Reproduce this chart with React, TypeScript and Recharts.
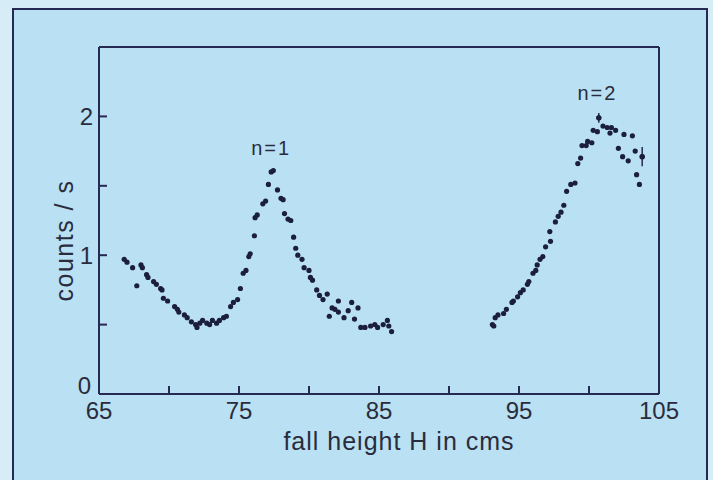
import { ScatterChart, Scatter, XAxis, YAxis, ReferenceDot, ErrorBar } from "recharts";

// n = 1 branch (fall height in cm, counts per second)
const heightsA = [
  66.8, 67.0, 67.4, 67.7, 68.0, 68.1, 68.4, 68.5, 68.9, 69.1, 69.4, 69.5, 69.6, 69.9,
  70.4, 70.6, 70.7, 71.1, 71.3, 71.6, 71.9, 72.0, 72.2, 72.4, 72.7, 72.9, 73.1, 73.4,
  73.6, 73.9, 74.1, 74.4, 74.6, 74.9, 75.1, 75.3, 75.5, 75.7, 75.8, 76.1, 76.15, 76.3,
  76.7, 76.9, 77.1, 77.3, 77.45, 77.75, 78.0, 78.15, 78.25, 78.5, 78.7, 78.9, 79.05,
  79.2, 79.5, 79.65, 80.0, 80.1, 80.25, 80.55, 80.75, 81.0, 81.3, 81.45, 81.65, 81.85,
  82.1, 82.1, 82.5, 82.8, 83.05, 83.25, 83.5, 83.7, 84.0, 84.4, 84.7, 84.9, 85.3, 85.6,
  85.7, 85.9,
];
const countsA = [
  0.97, 0.95, 0.91, 0.78, 0.93, 0.91, 0.86, 0.84, 0.81, 0.79, 0.76, 0.75, 0.69, 0.67,
  0.63, 0.61, 0.59, 0.57, 0.55, 0.52, 0.5, 0.48, 0.51, 0.53, 0.51, 0.5, 0.53, 0.51,
  0.53, 0.55, 0.56, 0.63, 0.66, 0.68, 0.76, 0.87, 0.89, 0.99, 1.01, 1.14, 1.27, 1.29,
  1.37, 1.39, 1.51, 1.6, 1.61, 1.47, 1.41, 1.4, 1.3, 1.26, 1.25, 1.13, 1.05,
  1.0, 0.97, 0.91, 0.89, 0.84, 0.82, 0.75, 0.71, 0.68, 0.72, 0.56, 0.62, 0.61,
  0.67, 0.59, 0.55, 0.6, 0.66, 0.54, 0.62, 0.48, 0.48, 0.49, 0.5, 0.48, 0.5, 0.53,
  0.49, 0.45,
];

// n = 2 branch
const heightsB = [
  93.1, 93.2, 93.3, 93.5, 93.9, 94.1, 94.5, 94.6, 94.9, 95.1, 95.3, 95.6, 95.7, 96.0,
  96.2, 96.3, 96.5, 96.7, 96.9, 97.2, 97.25, 97.6, 97.8, 98.0, 98.2, 98.4, 98.7, 99.0,
  99.2, 99.4, 99.5, 99.8, 99.9, 100.2, 100.3, 100.6, 100.7, 101.0, 101.3, 101.5, 101.6,
  101.9, 102.1, 102.4, 102.5, 102.8, 103.1, 103.3, 103.4, 103.6, 103.8,
];
const countsB = [
  0.5, 0.49, 0.55, 0.57, 0.58, 0.61, 0.66, 0.67, 0.7, 0.73, 0.75, 0.79, 0.81, 0.87,
  0.89, 0.93, 0.97, 0.99, 1.06, 1.17, 1.1, 1.24, 1.28, 1.31, 1.36, 1.46, 1.51, 1.52,
  1.66, 1.7, 1.79, 1.79, 1.82, 1.81, 1.9, 1.89, 1.99, 1.93, 1.92, 1.88, 1.92,
  1.9, 1.77, 1.71, 1.87, 1.68, 1.86, 1.75, 1.58, 1.51, 1.71,
];

// points drawn with an error bar
const errHeights = [100.7, 103.8];
const errCounts = [1.99, 1.71];
const errSizes = [0.035, 0.07];

const xTicks = [65, 70, 75, 80, 85, 90, 95, 100, 105];
const yTicks = [0, 0.5, 1, 1.5, 2];

const peakNames = ["n=1", "n=2"];
const peakHeights = [77.3, 100.6];
const peakCounts = [1.77, 2.17];

const seriesA = heightsA.map((x, i) => ({ x, y: countsA[i] }));
const seriesB = heightsB.map((x, i) => ({ x, y: countsB[i] }));
const seriesErr = errHeights.map((x, i) => ({ x, y: errCounts[i], err: errSizes[i] }));

const navy = "#262a52";
const ink = "#2a2c3c";
const font = '"Liberation Sans", Arial, Helvetica, sans-serif';

const Dot = (p: any) => <circle cx={p.cx} cy={p.cy} r={2.6} fill="#1b1e3c" />;

// y labels only on whole numbers; the 0 sits a little above its tick, as in the print
const YTick = (p: any) => {
  const v = p.payload.value;
  if (!Number.isInteger(v)) return null;
  return (
    <text x={p.x} y={p.y} dy={v === 0 ? 0 : 8.5} dx={v === 0 ? -2 : 0} textAnchor="end" fill={ink} fontSize={24} fontFamily={font}>
      {v}
    </text>
  );
};

const XTitle = ({ viewBox }: any) => (
  <text
    x={viewBox.x + viewBox.width / 2 + 20}
    y={viewBox.y + 56}
    textAnchor="middle"
    fill={ink}
    fontSize={25}
    fontFamily={font}
    letterSpacing={1}
  >
    fall height H in cms
  </text>
);

const YTitle = ({ viewBox }: any) => (
  <text
    transform={`translate(${viewBox.x + 34},${viewBox.y + viewBox.height / 2 + 20}) rotate(-90)`}
    textAnchor="middle"
    fill={ink}
    fontSize={25}
    fontFamily={font}
    letterSpacing={1.5}
  >
    counts / s
  </text>
);

const axisLine = { stroke: navy, strokeWidth: 2 };
const tickStyle = { fill: ink, fontSize: 24, fontFamily: font };

export default function App() {
  return (
    <div style={{ position: "absolute", left: 0, top: 0, width: 713, height: 480, background: "#d6edf8" }}>
      <div
        style={{
          position: "absolute",
          left: 12,
          top: 8,
          width: 692,
          height: 470,
          background: "#b9e0f3",
          borderLeft: `2px solid ${navy}`,
          borderTop: `2px solid ${navy}`,
          borderRight: `2px solid ${navy}`,
        }}
      />
      <div style={{ position: "absolute", left: 0, top: 0 }}>
        <ScatterChart width={713} height={480} margin={{ top: 27, right: 34, bottom: 26, left: 39 }}>
          <XAxis
            xAxisId="b"
            type="number"
            dataKey="x"
            domain={[65, 105]}
            ticks={xTicks}
            interval={0}
            allowDataOverflow
            height={60}
            axisLine={axisLine}
            tickLine={axisLine}
            tickSize={-8}
            tickMargin={16}
            tick={tickStyle}
            tickFormatter={(v: number) => (v % 10 === 5 ? String(v) : "")}
            label={{ content: XTitle }}
          />
          <XAxis
            xAxisId="t"
            orientation="top"
            type="number"
            dataKey="x"
            domain={[65, 105]}
            ticks={xTicks}
            interval={0}
            allowDataOverflow
            height={20}
            axisLine={axisLine}
            tickLine={axisLine}
            tickSize={-8}
            tick={false}
          />
          <YAxis
            yAxisId="l"
            type="number"
            dataKey="y"
            domain={[0, 2.5]}
            ticks={yTicks}
            interval={0}
            allowDataOverflow
            width={60}
            axisLine={axisLine}
            tickLine={axisLine}
            tickSize={-8}
            tickMargin={14}
            tick={YTick}
            label={{ content: YTitle }}
          />
          <YAxis
            yAxisId="r"
            orientation="right"
            type="number"
            dataKey="y"
            domain={[0, 2.5]}
            ticks={yTicks}
            interval={0}
            allowDataOverflow
            width={20}
            axisLine={axisLine}
            tickLine={axisLine}
            tickSize={-8}
            tick={false}
          />
          <Scatter xAxisId="b" yAxisId="l" data={seriesA} shape={Dot} isAnimationActive={false} />
          <Scatter xAxisId="b" yAxisId="l" data={seriesB} shape={Dot} isAnimationActive={false} />
          <Scatter xAxisId="t" yAxisId="r" data={seriesB} shape={() => null} isAnimationActive={false} />
          <Scatter xAxisId="b" yAxisId="l" data={seriesErr} shape={Dot} isAnimationActive={false}>
            <ErrorBar dataKey="err" direction="y" width={0} stroke={navy} strokeWidth={1.5} isAnimationActive={false} />
          </Scatter>
          {peakNames.map((name, i) => (
            <ReferenceDot
              key={name}
              xAxisId="b"
              yAxisId="l"
              x={peakHeights[i]}
              y={peakCounts[i]}
              r={1}
              fill="none"
              stroke="none"
              label={{ value: name, position: "center", fill: ink, fontSize: 20, fontFamily: font, letterSpacing: 2 }}
            />
          ))}
        </ScatterChart>
      </div>
    </div>
  );
}
